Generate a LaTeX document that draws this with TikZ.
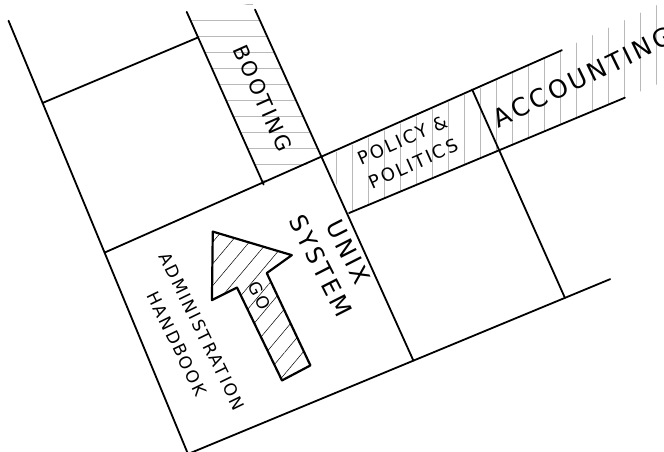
\documentclass[tikz,border=0pt]{standalone}
\usepackage{fontspec}
\newfontfamily\handfont[LetterSpace=12]{DejaVu Sans}
\usetikzlibrary{patterns.meta}
\begin{document}
\begin{tikzpicture}[x=1pt, y=1pt]
    % --- 样式设置 ---
    \tikzstyle{edge}=[line width=1.8pt, line cap=round, black]
    \tikzstyle{hatchh}=[pattern={Lines[angle=0, distance=16pt, line width=0.6pt]}, pattern color=gray!55]
    \tikzstyle{hatchv}=[pattern={Lines[angle=90, distance=16pt, line width=0.6pt]}, pattern color=gray!55]
    \tikzstyle{hand}=[inner sep=0pt, black]

    % 0. 画布大小
    \useasboundingbox (0,0) rectangle (664,-452);
    \clip (0,0) rectangle (664,-452);

    \begin{scope}[shift={(188,-454)}, rotate=22.5]
    % 1. 色条阴影
    \fill[hatchh] (173,222) -- (238,222) -- (232,392) -- (168,404) -- cycle;
    \fill[hatchv] (241,161) -- (405,161) -- (403,226) -- (240,222) -- cycle;
    \fill[hatchv] (405,161) -- (620,162) -- (620,236) -- (403,226) -- cycle;

    % 2. 棋盘边线
    \draw[edge] (0,469) -- (0,0) -- (457,0);
    \draw[edge] (0,218) -- (500,230);
    \draw[edge] (244,0) -- (232,385);
    \draw[edge] (0,380) -- (169,381);
    \draw[edge] (173,220) -- (168,409);
    \draw[edge] (241,161) -- (540,162);
    \draw[edge] (408,0) -- (402,228);

    % 3. GO 箭头
    \draw[line width=2.2pt, line join=round, pattern={Lines[angle=50, distance=14pt, line width=0.5pt]}]
        (108,196) -- (172,144) -- (142,137) -- (147,35) -- (115,32) -- (109,135) -- (81,133) -- cycle;

    % 4. 文字标注
    \node[hand, font=\handfont\fontsize{21}{24}\selectfont, rotate=-66] (booting) at (205,300) {BOOTING};
    \node[hand, align=center, font=\handfont\fontsize{24}{31}\selectfont, rotate=-63] (unix) at (210,124) {UNIX\\SYSTEM};
    \node[hand, align=center, font=\handfont\fontsize{17}{28}\selectfont, rotate=-64] (admin) at (46,107) {ADMINISTRATION\\HANDBOOK};
    \node[hand, font=\handfont\fontsize{17}{20}\selectfont, rotate=-63] (go) at (127,119) {GO};
    \node[hand, align=center, font=\handfont\fontsize{18}{26}\selectfont, rotate=24] (policy) at (319,195) {POLICY \&\\POLITICS};
    \node[hand, font=\handfont\fontsize{25}{28}\selectfont, rotate=26] (acct) at (509,197) {ACCOUNTING};
    \end{scope}

\end{tikzpicture}
\end{document}
